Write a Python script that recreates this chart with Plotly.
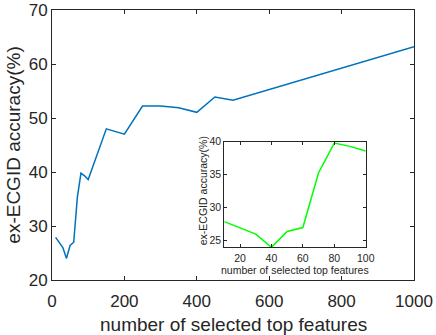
import plotly.graph_objects as go

# main curve: accuracy vs number of selected top features
n_features = [10, 20, 30, 40, 50, 60, 70, 80, 90, 100,
              150, 200, 250, 300, 350, 400, 450, 500, 1000]
accuracy = [27.9, 27.0, 26.0, 24.0, 26.4, 27.0, 35.3, 39.8, 39.3, 38.6,
            48.0, 47.0, 52.2, 52.2, 51.9, 51.05, 53.9, 53.3, 63.2]

# inset: zoom on the first 100 features
inset_features = [10, 20, 30, 40, 50, 60, 70, 80, 90, 100]
inset_accuracy = [27.9, 27.0, 26.0, 24.0, 26.4, 27.0, 35.3, 39.8, 39.3, 38.6]

FONT = "Liberation Sans, Arial, Helvetica, sans-serif"
INK = "#262626"

fig = go.Figure()
fig.add_trace(go.Scatter(x=n_features, y=accuracy, mode="lines",
                         line=dict(color="#0072BD", width=1.5),
                         xaxis="x", yaxis="y", showlegend=False))
fig.add_trace(go.Scatter(x=inset_features, y=inset_accuracy, mode="lines",
                         line=dict(color="#00FF00", width=1.5),
                         xaxis="x2", yaxis="y2", showlegend=False))

axis_common = dict(showline=True, linecolor=INK, linewidth=1, mirror="ticks",
                   ticks="inside", tickcolor=INK, showgrid=False, zeroline=False,
                   automargin=False)

# titles are placed by hand (paper coords)
titles = [
    ("number of selected top features", 0.5, -0.163, 0, 19),
    ("ex-ECGID accuracy(%)", -0.1086, 0.5, -90, 19),
    ("number of selected top features", 0.671, 0.037, 0, 10.5),
    ("ex-ECGID accuracy(%)", 0.418, 0.33, -90, 10.5),
]

fig.update_layout(
    width=436, height=335,
    margin=dict(l=52, r=22, t=10, b=55),
    paper_bgcolor="white", plot_bgcolor="white",
    font=dict(family=FONT, color=INK),
    xaxis=dict(domain=[0, 1], range=[0, 1000], tickvals=[0, 200, 400, 600, 800, 1000],
               ticklen=4, tickfont=dict(size=17), ticklabelstandoff=6, **axis_common),
    yaxis=dict(domain=[0, 1], range=[20, 70], tickvals=[20, 30, 40, 50, 60, 70],
               ticklen=4, tickfont=dict(size=17), **axis_common),
    xaxis2=dict(domain=[0.476, 0.8666], range=[10, 100], anchor="y2",
                tickvals=[20, 40, 60, 80, 100], ticklen=3, tickfont=dict(size=10.5),
                ticklabelstandoff=1, **axis_common),
    yaxis2=dict(domain=[0.121, 0.512], range=[24, 40], anchor="x2",
                tickvals=[25, 30, 35, 40], ticklen=3, tickfont=dict(size=10.5),
                **axis_common),
    annotations=[
        dict(text=t, xref="paper", yref="paper", x=x, y=y,
             xanchor="center", yanchor="middle", textangle=a,
             showarrow=False, font=dict(size=s))
        for t, x, y, a, s in titles
    ],
)

# drop the default body margin so the figure sits at the page corner
fig.write_html("out.html", config={"displayModeBar": False},
               post_script="document.body.style.margin='0';")
